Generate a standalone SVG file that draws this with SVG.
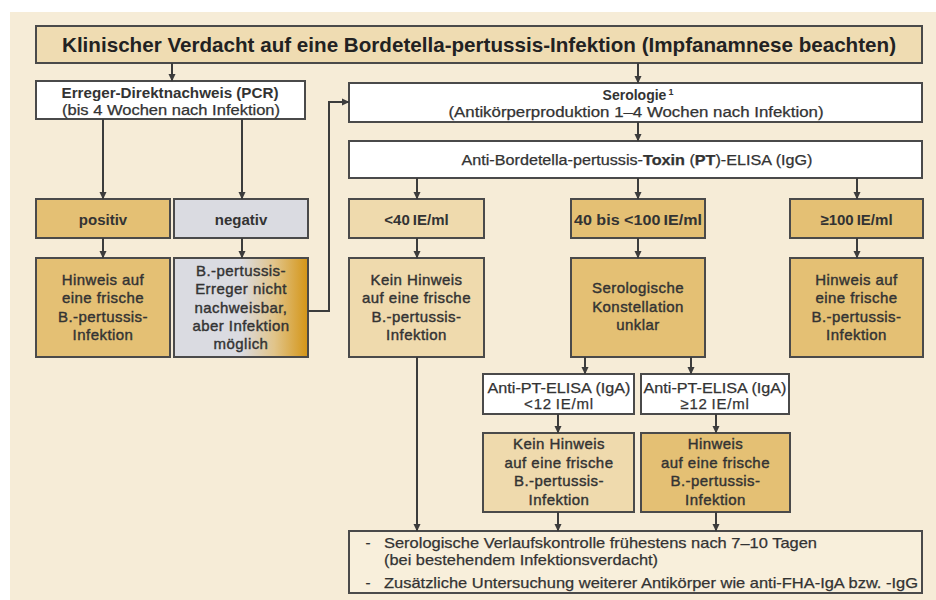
<svg xmlns="http://www.w3.org/2000/svg" width="936" height="600" viewBox="0 0 936 600">
<defs>
<marker id="ah" markerWidth="8" markerHeight="8" refX="7" refY="4" orient="auto" markerUnits="userSpaceOnUse">
<path d="M0,0.5 L7.5,4 L0,7.5 z" fill="#3c3c3c"/>
</marker>
<linearGradient id="negGrad" x1="0" y1="0" x2="1" y2="0">
<stop offset="0" stop-color="#dadbe1"/>
<stop offset="0.5" stop-color="#dadbe1"/>
<stop offset="0.75" stop-color="#e1c489"/>
<stop offset="1" stop-color="#d49516"/>
</linearGradient>
<style>
.box{stroke:#4a4a4a;stroke-width:2}
.white{fill:#ffffff}
.gold{fill:#e4c074}
.tan{fill:#efdaad}
.grey{fill:#dadbe1}
.t{font-family:"Liberation Sans",Arial,sans-serif;fill:#333333;text-anchor:middle;stroke:#333333;stroke-width:0.25}
.s{text-anchor:start}
.b{font-weight:bold;stroke-width:0}
.body{font-size:15px;letter-spacing:0.45px;stroke-width:0.4}
.lbl{font-size:15px;font-weight:bold;stroke-width:0}
.conn path{fill:none;stroke:#3c3c3c;stroke-width:2}
.arr{marker-end:url(#ah)}
</style>
</defs>
<rect x="10" y="12" width="926" height="588" fill="#f6ecd7"/>

<g id="title">
<rect class="box" x="36" y="26" width="886" height="37" fill="#efdcb2"/>
<text class="t b" x="479" y="52" font-size="21" style="fill:#222" textLength="834" lengthAdjust="spacingAndGlyphs">Klinischer Verdacht auf eine Bordetella-pertussis-Infektion (Impfanamnese beachten)</text>
</g>

<g id="pcr">
<rect class="box white" x="36" y="81" width="269" height="38"/>
<text class="t b" x="170" y="98" font-size="14" textLength="217" lengthAdjust="spacingAndGlyphs">Erreger-Direktnachweis (PCR)</text>
<text class="t" x="171" y="115" font-size="14" textLength="218" lengthAdjust="spacingAndGlyphs">(bis 4 Wochen nach Infektion)</text>
</g>

<g id="serologie">
<rect class="box white" x="349" y="83" width="573" height="39"/>
<text class="t b" x="638" y="100" font-size="14">Serologie<tspan font-size="9" dy="-5" dx="2">1</tspan></text>
<text class="t" x="636" y="117" font-size="14" textLength="375" lengthAdjust="spacingAndGlyphs">(Antikörperproduktion 1–4 Wochen nach Infektion)</text>
</g>

<g id="elisa">
<rect class="box white" x="349" y="141" width="573" height="37"/>
<text class="t" x="637" y="165" font-size="14" textLength="351" lengthAdjust="spacingAndGlyphs">Anti-Bordetella-pertussis-<tspan font-weight="bold">Toxin</tspan> (<tspan font-weight="bold">PT</tspan>)-ELISA (IgG)</text>
</g>

<g id="positiv">
<rect class="box gold" x="36" y="199" width="134" height="39"/>
<text class="t lbl" x="103" y="225">positiv</text>
</g>
<g id="negativ">
<rect class="box grey" x="174" y="199" width="134" height="39"/>
<text class="t lbl" x="241" y="225">negativ</text>
</g>

<g id="pos-result">
<rect class="box gold" x="36" y="258" width="134" height="99"/>
<text class="t body" x="103" y="285">Hinweis auf</text>
<text class="t body" x="103" y="303">eine frische</text>
<text class="t body" x="103" y="322">B.-pertussis-</text>
<text class="t body" x="103" y="340">Infektion</text>
</g>

<g id="neg-result">
<rect class="box" x="174" y="258" width="134" height="99" fill="url(#negGrad)"/>
<text class="t body" x="241" y="276">B.-pertussis-</text>
<text class="t body" x="241" y="294">Erreger nicht</text>
<text class="t body" x="241" y="313">nachweisbar,</text>
<text class="t body" x="241" y="331">aber Infektion</text>
<text class="t body" x="241" y="349">möglich</text>
</g>

<g id="lt40">
<rect class="box tan" x="349" y="199" width="135" height="39"/>
<text class="t lbl" x="416.5" y="225">&lt;40&#8201;IE/ml</text>
</g>
<g id="mid">
<rect class="box gold" x="571" y="199" width="134" height="39"/>
<text class="t lbl" x="638" y="225" textLength="128" lengthAdjust="spacingAndGlyphs">40 bis &lt;100&#8201;IE/ml</text>
</g>
<g id="ge100">
<rect class="box gold" x="790" y="199" width="133" height="39"/>
<text class="t lbl" x="856.5" y="225">≥100&#8201;IE/ml</text>
</g>

<g id="kein">
<rect class="box tan" x="349" y="258" width="135" height="99"/>
<text class="t body" x="416.5" y="285">Kein Hinweis</text>
<text class="t body" x="416.5" y="303">auf eine frische</text>
<text class="t body" x="416.5" y="322">B.-pertussis-</text>
<text class="t body" x="416.5" y="340">Infektion</text>
</g>

<g id="unklar">
<rect class="box gold" x="571" y="258" width="134" height="99"/>
<text class="t body" x="638" y="293">Serologische</text>
<text class="t body" x="638" y="312">Konstellation</text>
<text class="t body" x="638" y="330">unklar</text>
</g>

<g id="hinweis-right">
<rect class="box gold" x="790" y="258" width="133" height="99"/>
<text class="t body" x="856.5" y="285">Hinweis auf</text>
<text class="t body" x="856.5" y="303">eine frische</text>
<text class="t body" x="856.5" y="322">B.-pertussis-</text>
<text class="t body" x="856.5" y="340">Infektion</text>
</g>

<g id="iga-low">
<rect class="box white" x="483" y="374" width="151" height="40"/>
<text class="t" x="559" y="393" font-size="15" textLength="143" lengthAdjust="spacingAndGlyphs">Anti-PT-ELISA (IgA)</text>
<text class="t" x="559" y="409" font-size="15" letter-spacing="0.8">&lt;12&#8201;IE/ml</text>
</g>
<g id="iga-high">
<rect class="box white" x="641" y="374" width="148" height="40"/>
<text class="t" x="715" y="393" font-size="15" textLength="143" lengthAdjust="spacingAndGlyphs">Anti-PT-ELISA (IgA)</text>
<text class="t" x="715" y="409" font-size="15" letter-spacing="0.8">≥12&#8201;IE/ml</text>
</g>

<g id="res-low">
<rect class="box tan" x="483" y="433" width="151" height="79"/>
<text class="t body" x="559" y="449">Kein Hinweis</text>
<text class="t body" x="559" y="468">auf eine frische</text>
<text class="t body" x="559" y="486">B.-pertussis-</text>
<text class="t body" x="559" y="505">Infektion</text>
</g>
<g id="res-high">
<rect class="box gold" x="641" y="433" width="149" height="79"/>
<text class="t body" x="715.5" y="449">Hinweis</text>
<text class="t body" x="715.5" y="468">auf eine frische</text>
<text class="t body" x="715.5" y="486">B.-pertussis-</text>
<text class="t body" x="715.5" y="505">Infektion</text>
</g>

<g id="bottom">
<rect class="box" x="349" y="531" width="573" height="62" fill="#f8efdb"/>
<text class="t" x="368" y="548" font-size="15">-</text>
<text class="t s" x="384" y="548" font-size="15" textLength="433" lengthAdjust="spacingAndGlyphs">Serologische Verlaufskontrolle frühestens nach 7–10 Tagen</text>
<text class="t s" x="384" y="565" font-size="15" textLength="274" lengthAdjust="spacingAndGlyphs">(bei bestehendem Infektionsverdacht)</text>
<text class="t" x="368" y="588" font-size="15">-</text>
<text class="t s" x="384" y="588" font-size="15" textLength="534" lengthAdjust="spacingAndGlyphs">Zusätzliche Untersuchung weiterer Antikörper wie anti-FHA-IgA bzw. -IgG</text>
</g>

<g id="connectors" class="conn">
<path class="arr" d="M172,63 V81"/>
<path class="arr" d="M638,63 V83"/>
<path class="arr" d="M103,119 V199"/>
<path class="arr" d="M242,119 V199"/>
<path class="arr" d="M103,238 V258"/>
<path class="arr" d="M242,238 V258"/>
<path class="arr" d="M308,311 H329 V102 H349"/>
<path class="arr" d="M638,122 V141"/>
<path class="arr" d="M417,178 V199"/>
<path class="arr" d="M638,178 V199"/>
<path class="arr" d="M857,178 V199"/>
<path class="arr" d="M417,238 V258"/>
<path class="arr" d="M638,238 V258"/>
<path class="arr" d="M857,238 V258"/>
<path class="arr" d="M417,357 V531"/>
<path class="arr" d="M585,357 V374"/>
<path class="arr" d="M691,357 V374"/>
<path class="arr" d="M558,414 V433"/>
<path class="arr" d="M716,414 V433"/>
<path class="arr" d="M558,512 V531"/>
<path class="arr" d="M716,512 V531"/>
</g>
</svg>
